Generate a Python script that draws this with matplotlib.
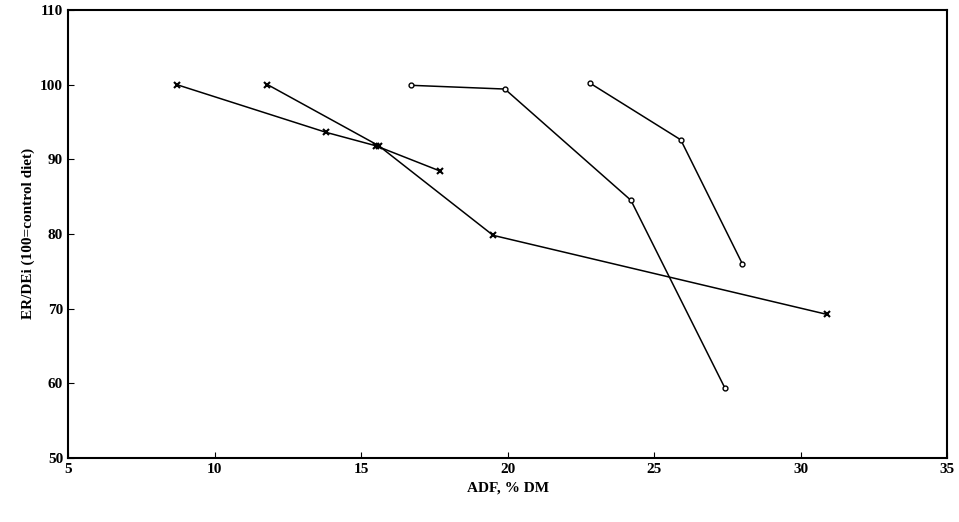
import matplotlib.pyplot as plt

plt.rcParams['font.family'] = ['Liberation Serif', 'DejaVu Serif']

adf_a = [8.7, 13.8, 15.5, 17.7]
er_a = [100.0, 93.6, 91.8, 88.4]
adf_b = [11.8, 15.6, 19.5, 30.9]
er_b = [100.0, 91.8, 79.8, 69.2]
adf_c = [16.7, 19.9, 24.2, 27.4]
er_c = [99.9, 99.4, 84.5, 59.4]
adf_d = [22.8, 25.9, 28.0]
er_d = [100.2, 92.6, 76.0]

fig, ax = plt.subplots(figsize=(9.59, 5.22), dpi=100)
fig.subplots_adjust(left=0.071, right=0.988, top=0.981, bottom=0.123)

for x, y in [(adf_a, er_a), (adf_b, er_b)]:
    ax.plot(x, y, color='black', lw=1.1, marker='x', ms=5, mew=1.5)
for x, y in [(adf_c, er_c), (adf_d, er_d)]:
    ax.plot(x, y, color='black', lw=1.1, marker='o', ms=3.5, mfc='white', mew=1)

ax.set_xlim(5, 35)
ax.set_ylim(50, 110)
ax.set_xticks(range(5, 36, 5))
ax.set_yticks(range(50, 111, 10))
ax.tick_params(labelsize=11, direction='in', length=4)
for lab in ax.get_xticklabels() + ax.get_yticklabels():
    lab.set_fontweight('bold')
ax.set_xlabel('ADF, % DM', fontsize=11, fontweight='bold')
ax.set_ylabel('ER/DEi (100=control diet)', fontsize=11, fontweight='bold')
for s in ax.spines.values():
    s.set_linewidth(1.5)

plt.savefig('out.png', dpi=100)
